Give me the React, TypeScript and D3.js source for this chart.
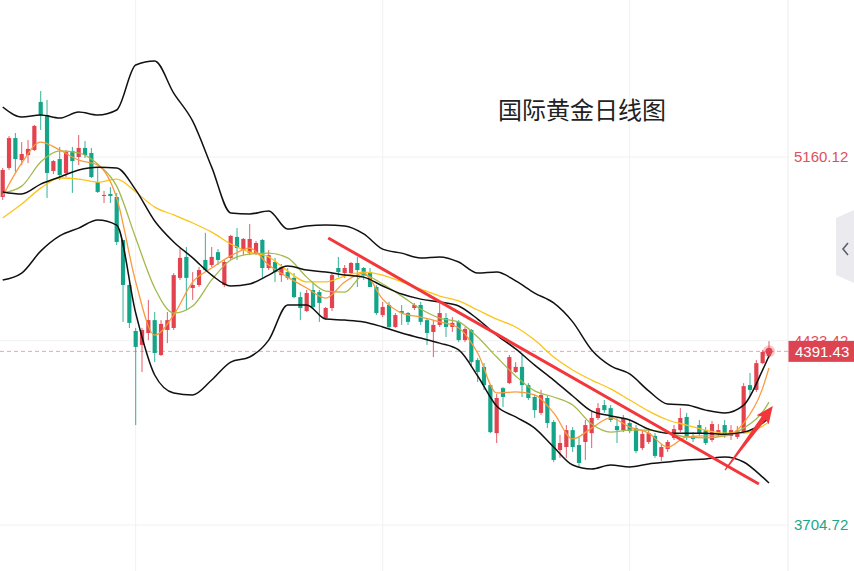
import * as d3 from "d3";

// daily candles (price units)
const opens = [
  5002, 5117, 5235, 5148, 5168, 5188, 5378, 5326, 5105, 5152,
  5097, 5184, 5160, 5196, 5176, 5061, 5006, 5014, 5002, 4832,
  4654, 4472, 4417, 4464, 4515, 4377, 4476, 4484, 4682, 4765,
  4642, 4654, 4753, 4733, 4784, 4654, 4761, 4844, 4792, 4780,
  4780, 4832, 4721, 4745, 4693, 4705, 4682, 4606, 4551, 4634,
  4626, 4523, 4563, 4721, 4701, 4701, 4741, 4721, 4705, 4646,
  4535, 4575, 4488, 4551, 4543, 4563, 4575, 4515, 4468, 4496,
  4523, 4488, 4508, 4436, 4476, 4357, 4330, 4258, 4068, 4246,
  4266, 4310, 4330, 4258, 4211, 4148, 4207, 4112, 4001, 4013,
  4080, 4021, 4033, 4068, 4128, 4179, 4167, 4096, 4080, 4108,
  4088, 4009, 4033, 4057, 3974, 4005, 4049, 4080, 4132, 4057,
  4100, 4080, 4041, 4065, 4100, 4057, 4053, 4072, 4258, 4239,
  4345, 4373,
];
const closes = [
  5109, 5235, 5152, 5172, 5192, 5283, 5326, 5097, 5144, 5089,
  5180, 5144, 5196, 5168, 5081, 5022, 5010, 5006, 4824, 4654,
  4504, 4409, 4476, 4515, 4385, 4500, 4515, 4693, 4761, 4682,
  4654, 4713, 4713, 4765, 4753, 4745, 4848, 4800, 4836, 4836,
  4820, 4721, 4772, 4705, 4725, 4682, 4606, 4563, 4622, 4567,
  4583, 4563, 4693, 4705, 4721, 4741, 4713, 4693, 4646, 4543,
  4567, 4488, 4535, 4543, 4508, 4575, 4508, 4464, 4496, 4543,
  4488, 4504, 4436, 4480, 4349, 4310, 4258, 4072, 4207, 4211,
  4369, 4330, 4258, 4207, 4159, 4219, 4108, 3962, 4029, 4080,
  4013, 3950, 4100, 4128, 4167, 4159, 4120, 4080, 4128, 4076,
  3997, 4065, 4068, 3978, 4013, 4033, 4084, 4128, 4053, 4045,
  4065, 4029, 4104, 4080, 4061, 4080, 4076, 4254, 4239, 4345,
  4389, 4391.43,
];
const highs = [
  5117, 5243, 5255, 5219, 5227, 5287, 5421, 5386, 5148, 5200,
  5188, 5200, 5247, 5223, 5196, 5117, 5026, 5041, 5018, 4832,
  4666, 4484, 4484, 4595, 4547, 4515, 4547, 4701, 4800, 4804,
  4705, 4725, 4860, 4804, 4796, 4753, 4852, 4879, 4840, 4895,
  4828, 4836, 4792, 4761, 4737, 4721, 4701, 4626, 4634, 4662,
  4634, 4567, 4701, 4765, 4733, 4745, 4765, 4725, 4721, 4654,
  4587, 4587, 4543, 4575, 4547, 4583, 4587, 4523, 4515, 4587,
  4543, 4527, 4515, 4488, 4480, 4365, 4345, 4262, 4223, 4250,
  4377, 4349, 4377, 4266, 4219, 4239, 4215, 4120, 4061, 4100,
  4092, 4053, 4120, 4152, 4187, 4199, 4179, 4128, 4140, 4120,
  4100, 4080, 4088, 4068, 4025, 4041, 4100, 4167, 4148, 4072,
  4120, 4092, 4116, 4104, 4120, 4100, 4096, 4266, 4306, 4357,
  4397, 4432,
];
const lows = [
  4990, 5109, 5101, 5128, 5136, 5184, 5267, 4998, 5093, 5069,
  5081, 5018, 5128, 5156, 5077, 5018, 4978, 4978, 4812, 4508,
  4484, 4100, 4310, 4436, 4349, 4373, 4424, 4476, 4674, 4555,
  4595, 4646, 4705, 4725, 4733, 4646, 4753, 4753, 4772, 4772,
  4772, 4682, 4713, 4666, 4666, 4674, 4602, 4515, 4547, 4563,
  4508, 4515, 4551, 4685, 4682, 4697, 4646, 4674, 4646, 4535,
  4527, 4480, 4484, 4496, 4496, 4555, 4496, 4417, 4369, 4488,
  4448, 4468, 4428, 4428, 4330, 4270, 4239, 4068, 4029, 4171,
  4262, 4306, 4211, 4199, 4128, 4140, 4088, 3954, 3970, 3970,
  3993, 3934, 3962, 4009, 4120, 4148, 4112, 4029, 4072, 4068,
  3989, 4001, 4025, 3970, 3958, 3993, 4041, 4072, 4041, 4033,
  4057, 4021, 4033, 4053, 4049, 4041, 4045, 4065, 4211, 4231,
  4341, 4365,
];

// indicator lines, sampled every third candle
const lineIdx = [
  0, 3, 6, 9, 12, 15, 18, 21, 24, 27, 30, 33, 36, 39, 42, 45, 48, 51, 54, 57,
  60, 63, 66, 69, 72, 75, 78, 81, 84, 87, 90, 93, 96, 99, 102, 105, 108, 111,
  114, 117, 120, 121,
];
const upperBand = [
  5358, 5318, 5326, 5314, 5338, 5326, 5346, 5524, 5540, 5413, 5302, 5120,
  4939, 4935, 4947, 4875, 4887, 4891, 4887, 4856, 4796, 4780, 4761, 4765,
  4745, 4701, 4705, 4670, 4622, 4583, 4508, 4397, 4334, 4302, 4235, 4183,
  4179, 4159, 4148, 4179, 4318, 4373,
];
const midBand = [
  5022, 5014, 5053, 5081, 5109, 5120, 5117, 5030, 4907, 4824, 4761, 4693,
  4650, 4658, 4693, 4729, 4713, 4705, 4693, 4685, 4650, 4618, 4598, 4587,
  4571, 4519, 4456, 4401, 4337, 4278, 4215, 4155, 4136, 4120, 4084, 4068,
  4068, 4068, 4064, 4072, 4108, 4128,
];
const lowerBand = [
  4674, 4701, 4788, 4848, 4879, 4911, 4891, 4543, 4298, 4227, 4219, 4278,
  4349, 4369, 4436, 4575, 4575, 4519, 4515, 4508, 4488, 4464, 4444, 4424,
  4397, 4294, 4175, 4132, 4088, 4013, 3942, 3926, 3942, 3934, 3946, 3954,
  3962, 3966, 3974, 3954, 3894, 3871,
];
const ma5 = [
  5006, 5136, 5219, 5188, 5148, 5128, 4998, 4666, 4456, 4535, 4666, 4721,
  4769, 4800, 4733, 4685, 4642, 4602, 4666, 4701, 4598, 4543, 4527, 4508,
  4484, 4385, 4227, 4231, 4219, 4148, 4045, 4088, 4128, 4092, 4068, 4013,
  4053, 4057, 4057, 4108, 4246, 4326,
];
const ma10 = [
  5018, 5045, 5140, 5184, 5176, 5132, 5045, 4840, 4642, 4543, 4571, 4674,
  4753, 4776, 4780, 4761, 4685, 4630, 4626, 4693, 4658, 4610, 4559, 4523,
  4508, 4448, 4369, 4294, 4235, 4211, 4179, 4104, 4072, 4080, 4080, 4068,
  4053, 4049, 4057, 4088, 4152, 4191,
];
const ma30 = [
  4919, 4974, 5037, 5077, 5073, 5061, 5073, 5022, 4962, 4931, 4899, 4863,
  4816, 4784, 4765, 4709, 4666, 4666, 4689, 4705, 4693, 4666, 4638, 4610,
  4591, 4555, 4519, 4488, 4436, 4369, 4318, 4278, 4243, 4199, 4155, 4120,
  4100, 4080, 4068, 4068, 4096, 4112,
];

const yTicks = [5160.12, 4433.42, 3704.72];
const yTickLabels = ["5160.12", "4433.42", "3704.72"];
const yTickColors = ["#e0505a", "#e0505a", "#1aa58b"];
const xGridIdx = [21, 60, 99];
const lastPrice = 4391.43;

// hand-drawn annotations (candle index, price)
const trendIdx = [51.4, 119.4];
const trendPrice = [4840, 3867];
const arrowIdx = [114.05, 121.6];
const arrowPrice = [3922, 4175];

const W = 854;
const H = 571;
const PLOT_R = 788;
const UP = "#e2434f";
const DOWN = "#14a589";
const ANNO = "#f2363a";

const App = () => {
  const x = d3.scaleLinear().domain([0, 121]).range([2.7, 769]);
  const y = d3.scaleLinear().domain([3704.72, 5160.12]).range([525, 157]);

  const line = (vals: number[]) =>
    d3
      .line<number>()
      .x((_, i) => x(lineIdx[i]))
      .y((v) => y(v))
      .curve(d3.curveMonotoneX)(vals) ?? undefined;

  const bw = 4.2;

  // arrow polygon in pixel space
  const ax0 = x(arrowIdx[0]);
  const ay0 = y(arrowPrice[0]);
  const ax1 = x(arrowIdx[1]);
  const ay1 = y(arrowPrice[1]);
  const len = Math.hypot(ax1 - ax0, ay1 - ay0);
  const ux = (ax1 - ax0) / len;
  const uy = (ay1 - ay0) / len;
  const nx = -uy;
  const ny = ux;
  const headLen = 17;
  const bx = ax1 - ux * headLen;
  const by = ay1 - uy * headLen;
  const nk = (px: number, py: number, w: number, s: number) =>
    `${px + nx * w * s},${py + ny * w * s}`;
  const arrowPts = [
    nk(ax0, ay0, 0.6, 1),
    nk(bx + ux * 2, by + uy * 2, 2.6, 1),
    nk(bx, by, 7.5, 1),
    `${ax1},${ay1}`,
    nk(bx, by, 7.5, -1),
    nk(bx + ux * 2, by + uy * 2, 2.6, -1),
    nk(ax0, ay0, 0.6, -1),
  ].join(" ");

  const lastY = y(lastPrice);
  const lastX = x(closes.length - 1);

  return (
    <svg
      width={W}
      height={H}
      viewBox={`0 0 ${W} ${H}`}
      style={{ position: "absolute", left: 0, top: 0, background: "#fff" }}
    >
      {/* grid */}
      {yTicks.map((t) => (
        <line
          key={`gy${t}`}
          x1={0}
          x2={PLOT_R}
          y1={y(t)}
          y2={y(t)}
          stroke="#f1f1f3"
          strokeWidth={1}
        />
      ))}
      {xGridIdx.map((i) => (
        <line
          key={`gx${i}`}
          x1={x(i)}
          x2={x(i)}
          y1={0}
          y2={H}
          stroke="#f1f1f3"
          strokeWidth={1}
        />
      ))}
      <line x1={PLOT_R} x2={PLOT_R} y1={0} y2={H} stroke="#ececee" />

      {/* title */}
      <text
        x={498}
        y={119}
        fontSize={24}
        fontFamily="'Noto Sans CJK SC', sans-serif"
        fill="#222"
      >
        国际黄金日线图
      </text>

      {/* last price dashed line */}
      <line
        x1={0}
        x2={PLOT_R}
        y1={lastY}
        y2={lastY}
        stroke="#ec8e98"
        strokeDasharray="4,3"
        opacity={0.8}
      />

      {/* candles */}
      {opens.map((o, i) => {
        const c = closes[i];
        const up = c >= o;
        const col = up ? UP : DOWN;
        const cx = x(i);
        const top = y(Math.max(o, c));
        const h = Math.max(1, Math.abs(y(o) - y(c)));
        return (
          <g key={i}>
            <line
              x1={cx}
              x2={cx}
              y1={y(Math.max(highs[i], o, c))}
              y2={y(Math.min(lows[i], o, c))}
              stroke={col}
              strokeWidth={1}
              opacity={0.85}
            />
            <rect x={cx - bw / 2} y={top} width={bw} height={h} fill={col} />
          </g>
        );
      })}

      {/* indicators */}
      <path d={line(ma30)} fill="none" stroke="#fcc419" strokeWidth={1.3} />
      <path d={line(ma10)} fill="none" stroke="#a3b94c" strokeWidth={1.3} />
      <path d={line(ma5)} fill="none" stroke="#fb9a3c" strokeWidth={1.3} />
      <path d={line(upperBand)} fill="none" stroke="#111" strokeWidth={1.5} />
      <path d={line(midBand)} fill="none" stroke="#111" strokeWidth={1.5} />
      <path d={line(lowerBand)} fill="none" stroke="#111" strokeWidth={1.5} />

      {/* annotations */}
      <line
        x1={x(trendIdx[0])}
        y1={y(trendPrice[0])}
        x2={x(trendIdx[1])}
        y2={y(trendPrice[1])}
        stroke={ANNO}
        strokeWidth={3}
      />
      <polygon points={arrowPts} fill={ANNO} />

      {/* last price marker */}
      <circle cx={lastX} cy={lastY} r={6} fill={UP} opacity={0.3} />
      <circle cx={lastX} cy={lastY} r={3.5} fill={UP} />

      {/* right axis */}
      {yTicks.map((t, i) => (
        <text
          key={`t${t}`}
          x={794}
          y={y(t)}
          dy="0.35em"
          fontSize={15}
          fontFamily="'Liberation Sans', Arial, sans-serif"
          fill={yTickColors[i]}
        >
          {yTickLabels[i]}
        </text>
      ))}
      <rect x={788.5} y={lastY - 10.5} width={66} height={21} fill="#dc4452" />
      <text
        x={795}
        y={lastY}
        dy="0.36em"
        fontSize={15}
        fontFamily="'Liberation Sans', Arial, sans-serif"
        fill="#fff"
      >
        {lastPrice.toFixed(2)}
      </text>

      {/* side tab */}
      <polygon points="836,218 854,210 854,283 836,275" fill="#ebebef" />
      <polyline
        points="848,243 843,249 848,255"
        fill="none"
        stroke="#5b6070"
        strokeWidth={1.6}
      />
    </svg>
  );
};

export default App;
